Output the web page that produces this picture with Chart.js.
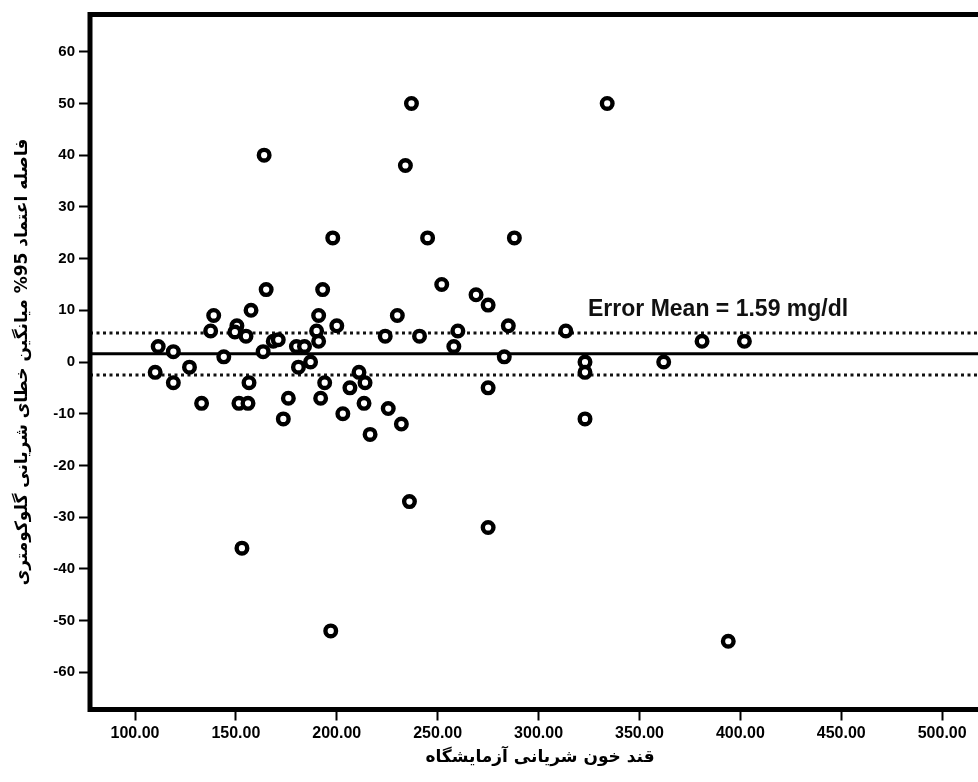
<!DOCTYPE html>
<html>
<head>
<meta charset="utf-8">
<script src="https://cdn.jsdelivr.net/npm/chart.js@4/dist/chart.umd.min.js"></script>
<style>
    html, body { margin: 0; padding: 0; background: #fff; overflow: hidden; }
    #wrap { width: 1000px; height: 782px; }
</style>
</head>
<body>
<div id="wrap"><canvas id="chart"></canvas></div>
<script>
//Values
//x: lab arterial glucose, y: glucometer error
const labX = [237, 334, 164, 234, 198, 245, 288, 165, 193, 252, 269, 275, 157.5, 139, 191, 230, 200, 285,
    137.5, 150.5, 149.5, 155, 190, 260, 313.5, 191, 224, 241, 168.5, 171, 381, 402, 111.5, 180, 184, 258,
    119, 163.5, 144, 283, 187, 323, 362, 110, 127, 181, 211, 323, 119, 156.5, 194, 214, 206.5, 275, 176, 192,
    133, 151.5, 156, 213.5, 225.5, 203, 173.5, 323, 232, 216.5, 236, 275, 153, 197, 394];
const errY = [50, 50, 40, 38, 24, 24, 24, 14, 14, 15, 13, 11, 10, 9, 9, 9, 7, 7,
    6, 7, 5.8, 5, 6, 6, 6, 4, 5, 5, 4, 4.3, 4, 4, 3, 3, 3, 3,
    2, 2, 1, 1, 0, 0, 0, -2, -1, -1, -2, -2, -4, -4, -4, -4, -5, -5, -7, -7,
    -8, -8, -8, -8, -9, -10, -11, -11, -12, -14, -27, -32, -36, -52, -54];

const meanError = 1.59;
const upperLimit = 5.6;
const lowerLimit = -2.5;

const xTicks = [100, 150, 200, 250, 300, 350, 400, 450, 500];
const yTicks = [-60, -50, -40, -30, -20, -10, 0, 10, 20, 30, 40, 50, 60];

const xRange = [77.7, 523.7];
const yRange = [-67.2, 67.2];

const annotText = "Error Mean = 1.59 mg/dl";
const annotAt = [324.5, 8.8];

const xTitle = "قند خون شریانی آزمایشگاه";
const yTitle = "فاصله اعتماد 95% میانگین خطای شریانی گلوکومتری";

//horizontal line from one side of the plot to the other
const hLine = (y) => [{ x: xRange[0], y: y }, { x: xRange[1], y: y }];

//Plugin draws the thick frame and the mean label
const framePlugin = {
    id: "frame",
    afterDraw: (chart) => {
        const c = chart.ctx;
        const a = chart.chartArea;
        c.save();
        c.lineWidth = 5;
        c.strokeStyle = "#000";
        c.strokeRect(a.left, a.top, a.right - a.left, a.bottom - a.top);

        c.fillStyle = "#111";
        c.font = "bold 23px 'Liberation Sans', Arial, sans-serif";
        c.textBaseline = "alphabetic";
        c.textAlign = "left";
        c.fillText(annotText, chart.scales.x.getPixelForValue(annotAt[0]), chart.scales.y.getPixelForValue(annotAt[1]));
        c.restore();
    },
};

const yTickFont = { family: "'Liberation Sans', Arial, sans-serif", size: 15, weight: "bold" };
const xTickFont = { family: "'Liberation Sans', Arial, sans-serif", size: 16, weight: "bold" };
const titleFont = { family: "'DejaVu Sans', sans-serif", size: 17, weight: "bold" };

const ctx = document.getElementById("chart");

const chart = new Chart(ctx, {
    type: "scatter",
    data: {
        datasets: [
            {
                data: labX.map((x, i) => ({ x: x, y: errY[i] })),
                pointRadius: 5.3,
                pointHoverRadius: 5.3,
                borderWidth: 4.4,
                borderColor: "#000",
                backgroundColor: "#fff",
                order: 0,
            },
            {
                type: "line",
                data: hLine(meanError),
                borderColor: "#000",
                borderWidth: 3,
                pointRadius: 0,
                order: 1,
            },
            {
                type: "line",
                data: hLine(upperLimit),
                borderColor: "#111",
                borderWidth: 3,
                borderDash: [3, 3.5],
                pointRadius: 0,
                order: 1,
            },
            {
                type: "line",
                data: hLine(lowerLimit),
                borderColor: "#111",
                borderWidth: 3,
                borderDash: [3, 3.5],
                pointRadius: 0,
                order: 1,
            },
        ],
    },
    options: {
        responsive: true,
        maintainAspectRatio: false,
        animation: false,
        layout: { padding: { left: 0, top: 14.5, right: 10, bottom: 0 } },
        plugins: {
            legend: { display: false },
            tooltip: { enabled: false },
        },
        scales: {
            x: {
                type: "linear",
                min: xRange[0],
                max: xRange[1],
                afterBuildTicks: (s) => { s.ticks = xTicks.map((v) => ({ value: v })); },
                afterFit: (s) => { s.height = 72.5; },
                grid: { drawOnChartArea: false, drawTicks: true, tickLength: 11, tickColor: "#000", tickWidth: 2 },
                border: { display: false },
                ticks: {
                    font: xTickFont,
                    color: "#000",
                    padding: 3,
                    maxRotation: 0,
                    callback: (v) => v.toFixed(2),
                },
                title: {
                    display: true,
                    text: xTitle,
                    font: titleFont,
                    color: "#000",
                    padding: { top: 0, bottom: 14 },
                },
            },
            y: {
                type: "linear",
                min: yRange[0],
                max: yRange[1],
                afterBuildTicks: (s) => { s.ticks = yTicks.map((v) => ({ value: v })); },
                afterFit: (s) => { s.width = 90; },
                grid: { drawOnChartArea: false, drawTicks: true, tickLength: 11, tickColor: "#000", tickWidth: 2 },
                border: { display: false },
                ticks: {
                    font: yTickFont,
                    color: "#000",
                    padding: 4,
                },
                title: {
                    display: true,
                    text: yTitle,
                    font: titleFont,
                    color: "#000",
                    padding: { top: 12, bottom: 0 },
                },
            },
        },
    },
    plugins: [framePlugin],
});
</script>
</body>
</html>
